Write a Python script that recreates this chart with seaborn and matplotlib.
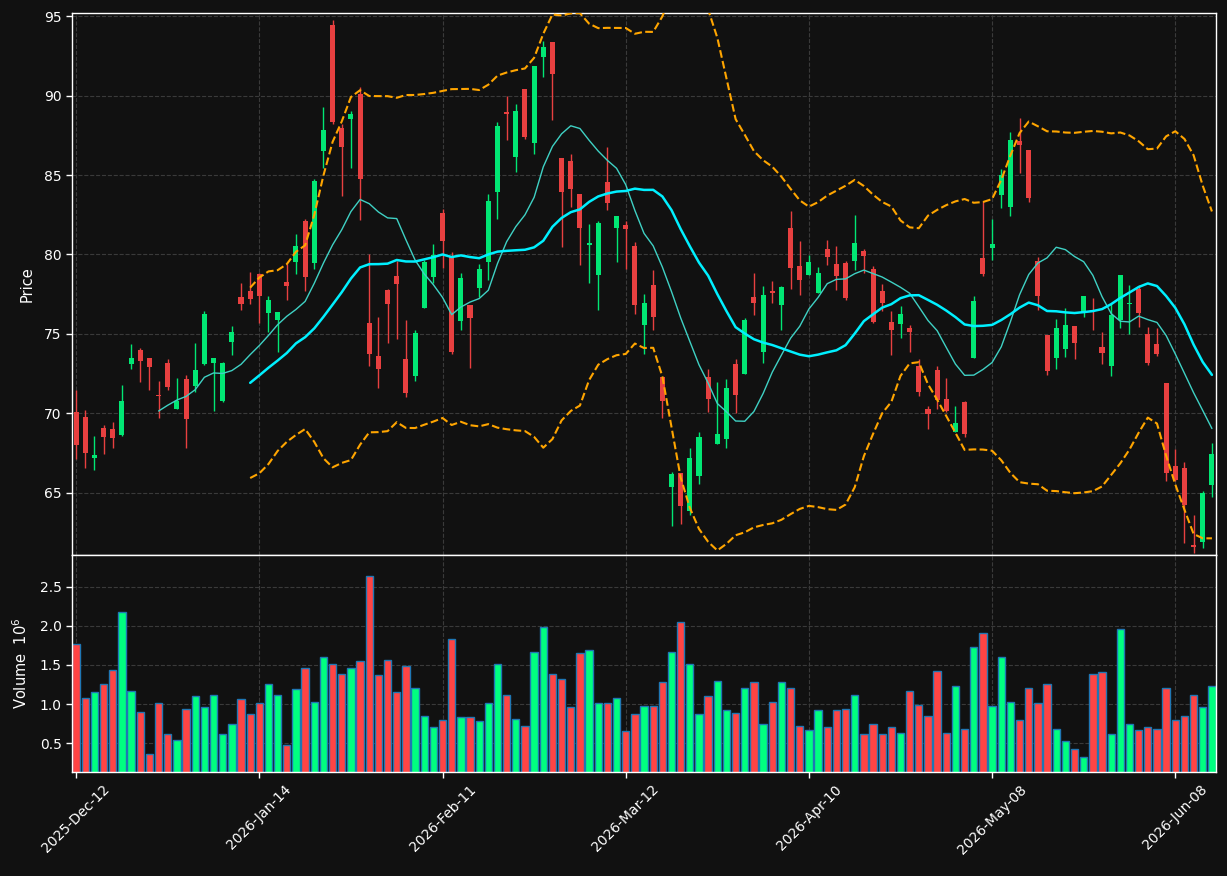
import numpy as np
import pandas as pd
import matplotlib
matplotlib.use("Agg")
import matplotlib.pyplot as plt
import seaborn as sns

# daily OHLC (125 sessions)
opens = [70.08, 69.75, 67.19, 69.06, 69.00, 68.65, 73.12, 73.98, 73.48, 71.15,
         73.17, 70.28, 72.15, 71.73, 73.10, 73.19, 70.79, 74.51, 77.34, 77.67,
         78.77, 76.34, 75.86, 78.29, 79.50, 82.12, 79.43, 86.49, 94.43, 87.99,
         88.52, 90.09, 75.68, 73.61, 77.73, 78.66, 73.41, 72.37, 76.63, 78.57,
         82.63, 79.83, 75.79, 76.81, 77.89, 79.50, 83.91, 88.94, 86.12, 90.40,
         87.00, 92.45, 93.40, 86.05, 85.85, 83.78, 80.62, 78.68, 84.53, 81.64,
         81.88, 80.56, 75.53, 78.09, 72.29, 65.36, 66.22, 63.84, 66.04, 72.29,
         68.07, 68.36, 73.10, 72.48, 77.34, 73.83, 77.71, 76.81, 81.68, 79.28,
         78.68, 77.60, 80.36, 79.41, 79.43, 79.57, 80.21, 79.10, 77.67, 75.75,
         75.64, 75.37, 72.95, 70.28, 72.73, 70.90, 68.80, 70.70, 73.48, 79.76,
         80.38, 83.73, 82.96, 87.11, 86.60, 79.61, 74.93, 73.50, 74.07, 75.51,
         76.30, 76.50, 74.20, 72.99, 75.90, 76.86, 77.84, 74.98, 74.36, 71.91,
         66.66, 66.53, 61.70, 61.89, 65.49]
highs = [71.45, 70.19, 68.54, 69.24, 69.48, 71.76, 74.34, 74.09, 73.50, 72.06,
         73.39, 72.20, 72.44, 74.43, 76.41, 73.50, 73.21, 75.48, 78.22, 78.88,
         78.84, 77.40, 76.40, 79.39, 81.31, 82.23, 84.75, 89.29, 94.77, 88.21,
         89.05, 90.57, 80.01, 76.04, 77.84, 79.61, 75.86, 75.24, 79.68, 80.65,
         82.87, 80.16, 78.84, 76.81, 79.39, 83.82, 88.32, 90.00, 89.47, 90.40,
         91.85, 93.44, 93.40, 86.05, 86.34, 83.80, 81.93, 82.10, 86.74, 82.43,
         82.10, 80.78, 77.51, 79.01, 72.30, 66.31, 66.22, 67.81, 68.80, 72.81,
         71.95, 72.15, 73.39, 75.97, 78.84, 78.00, 78.35, 78.04, 82.76, 80.87,
         79.98, 79.21, 80.93, 80.56, 79.59, 82.48, 80.36, 79.28, 78.15, 76.45,
         76.74, 75.57, 73.43, 70.45, 72.99, 72.22, 70.45, 70.79, 77.40, 83.36,
         82.21, 85.39, 87.73, 88.61, 86.60, 79.83, 74.93, 75.93, 76.63, 75.51,
         77.40, 77.25, 75.13, 76.85, 78.73, 78.07, 78.07, 75.46, 75.35, 71.91,
         67.74, 66.92, 63.62, 65.12, 68.12]
lows = [67.15, 66.53, 66.40, 67.41, 67.79, 68.60, 72.77, 72.00, 71.45, 69.68,
        71.45, 70.25, 67.79, 71.34, 73.05, 70.12, 70.68, 73.70, 76.52, 76.90,
        75.68, 75.09, 73.83, 77.16, 78.79, 77.69, 79.06, 85.46, 88.21, 83.69,
        85.46, 82.15, 72.99, 71.62, 74.43, 74.65, 71.01, 72.06, 76.60, 78.18,
        79.17, 73.76, 75.26, 72.84, 77.29, 78.40, 82.21, 87.22, 85.17, 87.26,
        86.34, 91.19, 88.48, 80.45, 82.98, 79.32, 78.22, 76.48, 82.81, 79.50,
        79.10, 76.23, 73.72, 75.26, 69.73, 62.91, 63.06, 63.62, 65.56, 70.06,
        68.07, 67.81, 70.01, 72.48, 76.19, 73.17, 76.94, 75.24, 77.84, 77.47,
        78.68, 77.60, 79.32, 77.73, 77.16, 79.01, 78.84, 75.70, 76.41, 73.65,
        74.71, 73.87, 71.07, 68.98, 70.30, 70.10, 68.80, 68.51, 73.48, 78.62,
        79.68, 82.92, 82.43, 85.12, 83.29, 76.52, 72.44, 72.77, 73.54, 73.39,
        76.04, 75.26, 73.10, 72.33, 75.37, 74.98, 75.42, 73.06, 73.61, 65.71,
        65.75, 61.81, 61.23, 61.52, 64.72]
closes = [68.01, 67.48, 67.37, 68.51, 68.45, 70.76, 73.48, 73.32, 72.93, 71.10,
          71.67, 70.76, 69.66, 72.73, 76.26, 73.48, 73.17, 75.13, 76.85, 77.22,
          77.40, 77.14, 76.39, 78.04, 80.56, 78.55, 84.60, 87.82, 88.32, 86.76,
          88.81, 84.73, 73.76, 72.81, 76.85, 78.11, 71.29, 75.07, 79.54, 79.98,
          80.82, 73.87, 78.51, 75.97, 79.06, 83.36, 88.06, 88.83, 89.05, 87.40,
          91.85, 93.04, 91.37, 83.91, 84.11, 81.64, 80.68, 81.99, 83.23, 82.39,
          81.57, 76.79, 76.94, 76.04, 70.79, 66.15, 64.17, 67.19, 68.51, 70.90,
          68.69, 71.58, 71.12, 75.90, 76.96, 77.45, 77.60, 77.95, 79.12, 78.42,
          79.54, 78.84, 79.81, 78.62, 77.25, 80.73, 79.87, 75.75, 76.94, 75.24,
          76.26, 75.09, 71.34, 69.95, 70.85, 70.12, 69.42, 68.69, 77.07, 78.77,
          80.67, 84.97, 87.18, 86.89, 83.58, 77.36, 72.66, 75.37, 75.57, 74.43,
          77.40, 76.41, 73.81, 76.19, 78.73, 76.92, 76.34, 73.19, 73.76, 66.22,
          65.78, 64.23, 61.59, 64.98, 67.41]
# volume in millions
volumes = [1.77, 1.08, 1.15, 1.26, 1.43, 2.18, 1.16, 0.90, 0.36, 1.01,
           0.61, 0.54, 0.93, 1.10, 0.96, 1.12, 0.61, 0.75, 1.07, 0.87,
           1.01, 1.25, 1.12, 0.48, 1.19, 1.46, 1.02, 1.60, 1.51, 1.38,
           1.46, 1.55, 2.64, 1.37, 1.56, 1.15, 1.48, 1.21, 0.85, 0.70,
           0.79, 1.83, 0.83, 0.83, 0.78, 1.01, 1.51, 1.12, 0.81, 0.72,
           1.66, 1.99, 1.38, 1.32, 0.96, 1.65, 1.69, 1.01, 1.01, 1.08,
           0.66, 0.87, 0.97, 0.98, 1.28, 1.66, 2.05, 1.51, 0.87, 1.10,
           1.29, 0.92, 0.89, 1.20, 1.28, 0.75, 1.02, 1.28, 1.20, 0.72,
           0.67, 0.92, 0.70, 0.92, 0.93, 1.12, 0.61, 0.75, 0.61, 0.71,
           0.63, 1.16, 0.99, 0.85, 1.42, 0.63, 1.23, 0.68, 1.73, 1.91,
           0.97, 1.60, 1.02, 0.79, 1.20, 1.01, 1.25, 0.68, 0.53, 0.43,
           0.32, 1.38, 1.41, 0.61, 1.96, 0.75, 0.67, 0.70, 0.68, 1.20,
           0.80, 0.85, 1.12, 0.96, 1.23]
tick_labels = ["2025-Dec-12", "2026-Jan-14", "2026-Feb-11", "2026-Mar-12",
               "2026-Apr-10", "2026-May-08", "2026-Jun-08"]

df = pd.DataFrame({"open": opens, "high": highs, "low": lows,
                   "close": closes, "volume": volumes})
df["i"] = np.arange(len(df))
df["dir"] = np.where(df["close"] >= df["open"], "up", "down")
df["sma10"] = df["close"].rolling(10).mean()
df["sma20"] = df["close"].rolling(20).mean()
std20 = df["close"].rolling(20).std(ddof=0)
df["bb_up"] = df["sma20"] + 2 * std20
df["bb_lo"] = df["sma20"] - 2 * std20

bg = "#111111"
sns.set_theme(style="dark", rc={
    "figure.facecolor": bg, "axes.facecolor": bg, "axes.edgecolor": "white",
    "axes.labelcolor": "white", "text.color": "white",
    "xtick.color": "white", "ytick.color": "white",
    "xtick.bottom": True, "ytick.left": True,
    "grid.color": "#3a3a3a", "grid.linestyle": "--", "grid.linewidth": 0.8,
    "axes.grid": True,
})
plt.rcParams["font.family"] = ["DejaVu Sans"]

fig = plt.figure(figsize=(12.27, 8.76), dpi=100)
ax_p = fig.add_axes([0.0587, 0.3659, 0.9323, 0.6193])
ax_v = fig.add_axes([0.0587, 0.1187, 0.9323, 0.2472])

up_c, down_c = "#01e774", "#e84040"
cols = np.where(df["dir"] == "up", up_c, down_c)

# candles
ax_p.vlines(df["i"], df["low"], df["high"], colors=cols, linewidth=1, zorder=2)
body = np.maximum((df["close"] - df["open"]).abs(), 0.07)
ax_p.bar(df["i"], body, bottom=np.minimum(df["open"], df["close"]),
         width=0.55, color=cols, linewidth=0, zorder=3)

sns.lineplot(data=df, x="i", y="sma10", ax=ax_p, color="#3fd1c4", linewidth=1, zorder=4)
sns.lineplot(data=df, x="i", y="sma20", ax=ax_p, color="#00f0ff", linewidth=1.8, zorder=4)
sns.lineplot(data=df, x="i", y="bb_up", ax=ax_p, color="#ffa500", linewidth=1.5,
             linestyle="--", zorder=4)
sns.lineplot(data=df, x="i", y="bb_lo", ax=ax_p, color="#ffa500", linewidth=1.5,
             linestyle="--", zorder=4)

# volume
sns.barplot(data=df, x="i", y="volume", hue="dir", ax=ax_v,
            palette={"up": "#00ff80", "down": "#ff4444"}, native_scale=True,
            dodge=False, width=0.8, edgecolor="#1f77b4", linewidth=1,
            saturation=1, errorbar=None, legend=False)

ticks = np.arange(0, len(df), 20)
for ax in (ax_p, ax_v):
    ax.set_xlim(-0.45, len(df) - 0.56)
    ax.set_xticks(ticks)
    ax.grid(True, color="#3a3a3a", linestyle="--", linewidth=0.8)
    ax.set_axisbelow(True)
    for s in ax.spines.values():
        s.set_color("white")
        s.set_linewidth(1)
    ax.tick_params(labelsize=10, length=4, width=1, colors="white")

ax_p.set_ylim(61.05, 95.2)
ax_p.set_yticks([65, 70, 75, 80, 85, 90, 95])
ax_p.set_xticklabels([])
ax_p.set_xlabel("")
ax_p.set_ylabel("Price", fontsize=10.5, labelpad=7)

ax_v.set_ylim(0.13, 2.9)
ax_v.set_yticks([0.5, 1.0, 1.5, 2.0, 2.5])
ax_v.set_xticklabels(tick_labels, rotation=45)
ax_v.set_xlabel("")
ax_v.set_ylabel("Volume  $10^{6}$", fontsize=10.5, labelpad=7)

fig.savefig("out.png", dpi=100, facecolor=bg)
